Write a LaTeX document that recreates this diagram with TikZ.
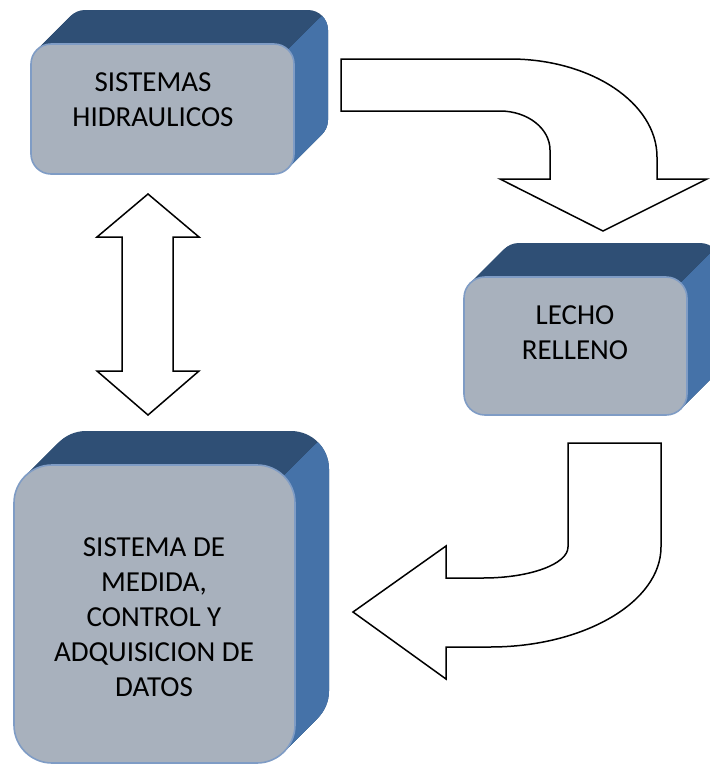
\documentclass[tikz,border=0pt]{standalone}
\usepackage{fontspec}
\setmainfont{Carlito}
\usetikzlibrary{calc}
\definecolor{topblue}{HTML}{2F4F75}
\definecolor{sideblue}{HTML}{4572A8}
\definecolor{sidedark}{HTML}{3F6A9F}
\definecolor{sidelight}{HTML}{4A78B0}
\definecolor{facegray}{HTML}{A8B1BD}
\definecolor{faceedge}{HTML}{7F9CC5}
\tikzset{
  face/.style={draw=faceedge, line width=1.6pt, fill=facegray, rectangle, inner sep=0pt},
  label text/.style={align=center, font=\fontsize{29}{35}\selectfont, text=black, inner sep=0pt},
  blockarrow/.style={draw=black, line width=1.5pt, fill=white, line join=miter}
}
\newcommand\extbox[6]{%
  % #1 name, #2 x1, #3 y1, #4 x2, #5 y2, #6 radius
  \foreach \t in {0,1,...,34}{
    \fill[topblue, rounded corners=#6pt, shift={(\t,-\t)}] (#2,#3) rectangle (#4,#5);
  }
  \pgfmathsetmacro\px{#4-0.293*#6}
  \pgfmathsetmacro\py{#3+0.293*#6}
  \begin{scope}
    \clip (\px+400,\py-400) -- (\px-400,\py+400) -- (\px+600,\py+400) -- (\px+1400,\py-400) -- cycle;
    \foreach \t in {0,1,...,34}{
      \fill[sideblue, rounded corners=#6pt, shift={(\t,-\t)}] (#2,#3) rectangle (#4,#5);
    }
  \end{scope}
  \node[face, rounded corners=#6pt, minimum width={(#4-#2)*1pt}, minimum height={(#5-#3)*1pt}] (#1) at ({(#2+#4)/2},{(#3+#5)/2}) {};
}
\begin{document}
\begin{tikzpicture}[x=1pt,y=-1pt]
\useasboundingbox (0,0) rectangle (710,764);
\fill[white] (0,0) rectangle (710,764);

% boxes
\extbox{hid}{31}{44}{294}{174}{20}
\node[label text] (hidT) at (153,100) {SISTEMAS\\HIDRAULICOS};

\extbox{lecho}{464}{277}{687}{415}{21}
\node[label text] (lechoT) at (575,333) {LECHO\\RELLENO};

\extbox{med}{14}{465}{295}{763}{38}
\node[label text] (medT) at (154,617) {SISTEMA DE\\MEDIDA,\\CONTROL Y\\ADQUISICION DE\\DATOS};

% curved arrow: hidraulicos -> lecho
\draw[blockarrow] (341,59) -- (510,59)
  .. controls (591,59) and (657,103) .. (657,157)
  -- (657,179) -- (707,179) -- (603,231) -- (500,179) -- (550,179) -- (550,150)
  .. controls (550,128.5) and (527.6,111) .. (500,111)
  -- (341,111) -- cycle;

% curved arrow: lecho -> medida
\draw[blockarrow] (568,443) -- (661,443) -- (661,547)
  .. controls (661,602) and (584,647) .. (490,647)
  -- (446,647) -- (446,679) -- (353,612) -- (446,546) -- (446,578) -- (483,578)
  .. controls (530,578) and (568,564) .. (568,547)
  -- cycle;

% double arrow
\draw[blockarrow] (148,194) -- (199,237) -- (173,237) -- (173,371) -- (199,371)
  -- (148,415) -- (97,371) -- (122,371) -- (122,237) -- (97,237) -- cycle;
\end{tikzpicture}
\end{document}
